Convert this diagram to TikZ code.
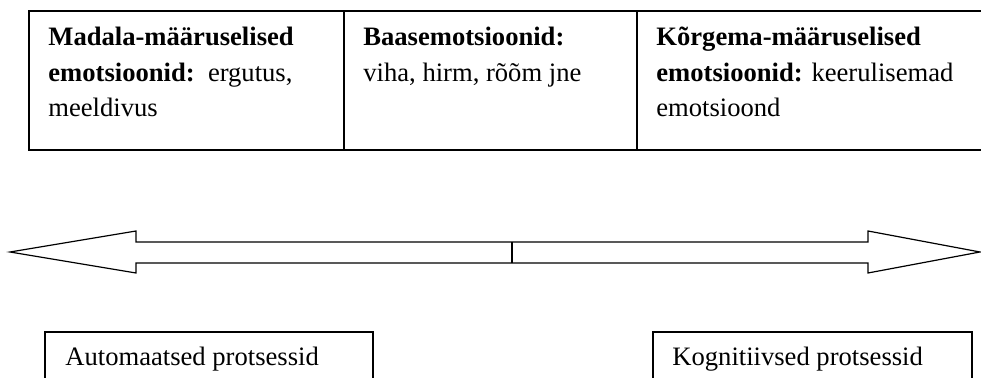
\documentclass[tikz,border=0pt]{standalone}
\usepackage{fontspec}
\setmainfont{Liberation Serif}
\usetikzlibrary{positioning}

\begin{document}
\begin{tikzpicture}[x=0.5pt, y=-0.5pt,
    cell/.style={anchor=north west, inner sep=0pt, align=left, font=\fontsize{13.3}{17.75}\selectfont},
    frame/.style={line width=0.7pt},
    arrowline/.style={line width=0.6pt, line join=miter}]
    \clip (0,0) rectangle (981,378);

    % Table of emotion levels
    \draw[frame] (1000,11) -- (29,11) -- (29,150) -- (1000,150);
    \foreach \x in {344,637} {
        \draw[frame] (\x,11) -- (\x,150);
    }
    \node[cell] (low) at (48,27) {\textbf{Madala-määruselised}\\\textbf{emotsioonid:}\ \ ergutus,\\meeldivus};
    \node[cell] (base) at (363,27) {\textbf{Baasemotsioonid:}\\viha, hirm, rõõm jne};
    \node[cell] (high) at (656,27) {\textbf{Kõrgema-määruselised}\\\textbf{emotsioonid:} keerulisemad\\emotsioond};

    % Double arrow
    \coordinate (ltip) at (10,252);
    \coordinate (rtip) at (980,252);
    \draw[arrowline] (ltip) -- (136,231) -- (136,242) -- (868,242) -- (868,231) -- (rtip)
        -- (868,273) -- (868,263) -- (136,263) -- (136,273) -- cycle;
    \draw[arrowline] (512,242) -- (512,263);

    % Processes
    \draw[frame] (45,400) -- (45,332) -- (373,332) -- (373,400);
    \draw[frame] (653,400) -- (653,332) -- (972,332) -- (972,400);
    \node[cell] (auto) at (65,347) {Automaatsed protsessid};
    \node[cell] (cogn) at (672,347) {Kognitiivsed protsessid};
\end{tikzpicture}
\end{document}
